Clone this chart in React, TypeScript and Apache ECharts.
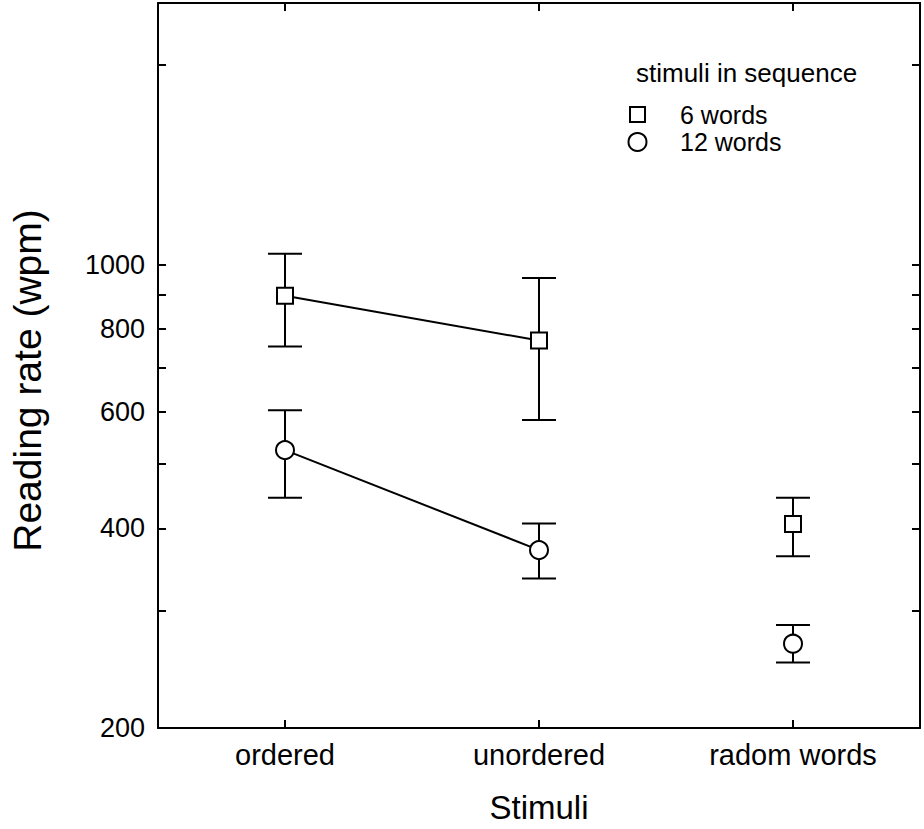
import React, { useEffect, useRef } from "react";
import * as echarts from "echarts";

// Stimulus conditions on the x axis
const categories = ["ordered", "unordered", "radom words"];

// Reading rate (wpm): means with lower / upper error-bar ends
const sixWordsMean = [897, 768, 406];
const sixWordsLow = [752, 583, 363];
const sixWordsHigh = [1038, 954, 445];

const twelveWordsMean = [525, 371, 268];
const twelveWordsLow = [445, 336, 251];
const twelveWordsHigh = [603, 407, 286];

// Axis extent and ticks (wpm, plotted on a log scale)
const yMin = 200;
const yMax = 2480;
const yTickValues = [200, 300, 400, 500, 600, 700, 800, 900, 1000, 2000];
const yLabelValues = [200, 400, 600, 800, 1000];

// Only the first two conditions are joined by a line
const connectedCount = 2;

const FONT = "'Liberation Sans', Arial, Helvetica, sans-serif";
const lg = (v: number) => Math.log10(v);

export default function App() {
  const ref = useRef<HTMLDivElement>(null);

  useEffect(() => {
    if (!ref.current) return;
    const chart = echarts.init(ref.current, null, { renderer: "svg" });

    const errData = (low: number[], high: number[]) =>
      categories.map((_, i) => [i, lg(low[i]), lg(high[i])]);
    const pointData = (mean: number[]) =>
      categories.map((_, i) => [i, lg(mean[i])]);
    const lineData = (mean: number[]) =>
      mean.slice(0, connectedCount).map((v, i) => [i, lg(v)]);

    const renderErr = (params: any, api: any) => {
      const x = api.value(0);
      const lo = api.coord([x, api.value(1)]);
      const hi = api.coord([x, api.value(2)]);
      const hw = 17;
      const style = { stroke: "#000", lineWidth: 2, fill: "none" };
      return {
        type: "group",
        children: [
          { type: "line", shape: { x1: lo[0], y1: lo[1], x2: hi[0], y2: hi[1] }, style },
          { type: "line", shape: { x1: hi[0] - hw, y1: hi[1], x2: hi[0] + hw, y2: hi[1] }, style },
          { type: "line", shape: { x1: lo[0] - hw, y1: lo[1], x2: lo[0] + hw, y2: lo[1] }, style },
        ],
      };
    };

    const axisLine = { show: true, lineStyle: { color: "#000", width: 2 } };
    const yTick = {
      show: true,
      inside: true,
      length: 8,
      lineStyle: { color: "#000", width: 2 },
      customValues: yTickValues.map(lg),
    };
    const xTick = {
      show: true,
      inside: true,
      length: 8,
      alignWithLabel: true,
      lineStyle: { color: "#000", width: 2 },
    };

    chart.setOption({
      animation: false,
      backgroundColor: "#fff",
      grid: { left: 153, right: 4, top: 3, bottom: 96, containLabel: false },
      xAxis: [
        {
          type: "category",
          data: categories,
          boundaryGap: true,
          axisLine,
          axisTick: xTick,
          axisLabel: { fontFamily: FONT, fontSize: 29, color: "#000", margin: 12 },
          splitLine: { show: false },
          name: "Stimuli",
          nameLocation: "middle",
          nameGap: 63,
          nameTextStyle: { fontFamily: FONT, fontSize: 33, color: "#000" },
        },
        {
          type: "category",
          data: categories,
          position: "top",
          boundaryGap: true,
          axisLine,
          axisTick: xTick,
          axisLabel: { show: false },
          splitLine: { show: false },
        },
      ],
      yAxis: [
        {
          type: "value",
          min: lg(yMin),
          max: lg(yMax),
          axisLine,
          axisTick: yTick,
          axisLabel: {
            customValues: yLabelValues.map(lg),
            formatter: (v: number) => String(Math.round(Math.pow(10, v))),
            fontFamily: FONT,
            fontSize: 27,
            color: "#000",
            margin: 13,
          },
          splitLine: { show: false },
          name: "Reading rate (wpm)",
          nameLocation: "middle",
          nameGap: 111,
          nameTextStyle: {
            fontFamily: FONT,
            fontSize: 39,
            color: "#000",
            padding: [0, 30, 0, 0],
          },
        },
        {
          type: "value",
          position: "right",
          min: lg(yMin),
          max: lg(yMax),
          axisLine,
          axisTick: yTick,
          axisLabel: { show: false },
          splitLine: { show: false },
        },
      ],
      series: [
        {
          type: "line",
          data: lineData(sixWordsMean),
          symbol: "none",
          lineStyle: { color: "#000", width: 2 },
          z: 2,
        },
        {
          type: "line",
          data: lineData(twelveWordsMean),
          symbol: "none",
          lineStyle: { color: "#000", width: 2 },
          z: 2,
        },
        {
          type: "custom",
          data: errData(sixWordsLow, sixWordsHigh),
          encode: { x: 0, y: [1, 2] },
          renderItem: renderErr,
          z: 3,
        },
        {
          type: "custom",
          data: errData(twelveWordsLow, twelveWordsHigh),
          encode: { x: 0, y: [1, 2] },
          renderItem: renderErr,
          z: 3,
        },
        {
          name: "6 words",
          type: "scatter",
          data: pointData(sixWordsMean),
          symbol: "rect",
          symbolSize: 16,
          itemStyle: { color: "#fff", borderColor: "#000", borderWidth: 2, opacity: 1 },
          z: 5,
        },
        {
          name: "12 words",
          type: "scatter",
          data: pointData(twelveWordsMean),
          symbol: "circle",
          symbolSize: 18,
          itemStyle: { color: "#fff", borderColor: "#000", borderWidth: 2, opacity: 1 },
          z: 5,
        },
      ],
      graphic: [
        {
          type: "text",
          left: 636,
          top: 60,
          style: { text: "stimuli in sequence", font: `26px ${FONT}`, fill: "#000" },
        },
        {
          type: "rect",
          shape: { x: 630, y: 107, width: 15, height: 15 },
          style: { fill: "#fff", stroke: "#000", lineWidth: 2 },
        },
        {
          type: "text",
          x: 680,
          y: 115,
          style: {
            text: "6 words",
            font: `25px ${FONT}`,
            fill: "#000",
            verticalAlign: "middle",
          },
        },
        {
          type: "circle",
          shape: { cx: 637.5, cy: 142, r: 9 },
          style: { fill: "#fff", stroke: "#000", lineWidth: 2 },
        },
        {
          type: "text",
          x: 680,
          y: 142,
          style: {
            text: "12 words",
            font: `25px ${FONT}`,
            fill: "#000",
            verticalAlign: "middle",
          },
        },
      ],
    });

    return () => chart.dispose();
  }, []);

  return (
    <div
      ref={ref}
      style={{ position: "fixed", left: 0, top: 0, width: 924, height: 829, background: "#fff" }}
    />
  );
}
